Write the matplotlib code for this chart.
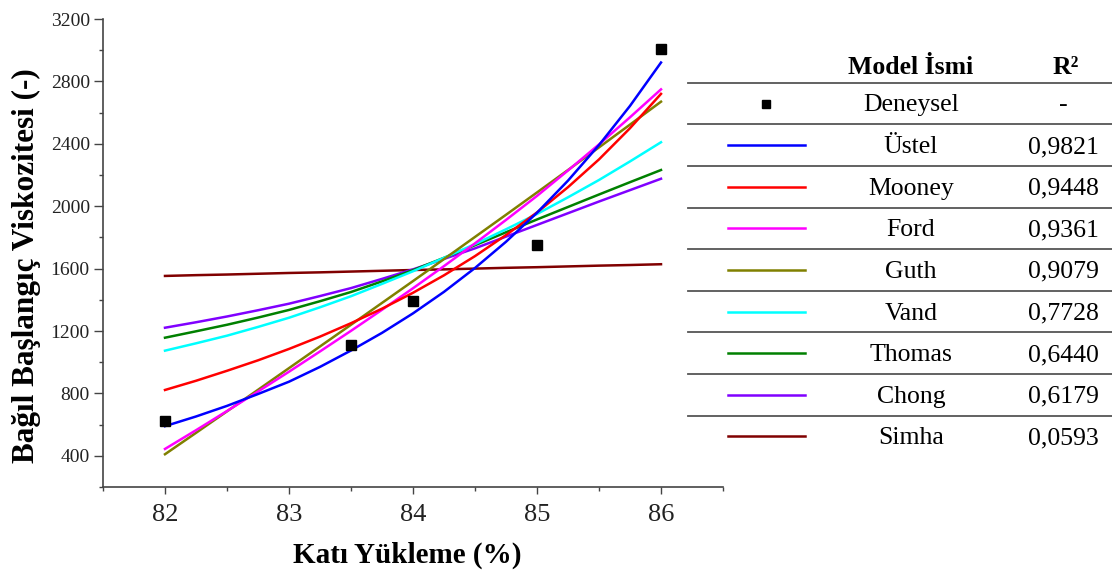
import matplotlib
matplotlib.use("Agg")
import matplotlib.pyplot as plt
from matplotlib.ticker import MultipleLocator
from matplotlib.lines import Line2D

# ---- data ----
x_exp = [82, 83.5, 84, 85, 86]
y_exp = [620, 1110, 1390, 1750, 3005]

x_fit = [82, 82.25, 82.5, 82.75, 83, 83.25, 83.5, 83.75, 84,
         84.25, 84.5, 84.75, 85, 85.25, 85.5, 85.75, 86]
ustel  = [590, 652, 720, 796, 875, 970, 1075, 1188, 1313,
          1451, 1604, 1772, 1958, 2164, 2392, 2643, 2921]
mooney = [822, 881, 945, 1012, 1085, 1164, 1250, 1343, 1445,
          1557, 1680, 1815, 1960, 2122, 2300, 2500, 2720]
ford   = [444, 564, 687, 812, 939, 1069, 1201, 1336, 1474,
          1616, 1762, 1912, 2066, 2229, 2396, 2570, 2749]
guth   = [410, 547, 685, 823, 962, 1101, 1240, 1380, 1520,
          1661, 1803, 1945, 2088, 2232, 2377, 2523, 2670]
vand   = [1074, 1121, 1170, 1226, 1285, 1352, 1423, 1502, 1583,
          1669, 1757, 1852, 1950, 2057, 2168, 2287, 2410]
thomas = [1157, 1198, 1240, 1286, 1335, 1391, 1450, 1518, 1590,
          1669, 1750, 1833, 1915, 1995, 2075, 2154, 2232]
chong  = [1221, 1256, 1293, 1333, 1375, 1424, 1475, 1534, 1595,
          1662, 1730, 1805, 1880, 1955, 2030, 2103, 2176]
simha  = [1553, 1558, 1562, 1567, 1572, 1576, 1581, 1586, 1591,
          1595, 1600, 1605, 1609, 1614, 1619, 1623, 1628]

model_names = ["Üstel", "Mooney", "Ford", "Guth", "Vand", "Thomas", "Chong", "Simha"]
model_r2 = ["0,9821", "0,9448", "0,9361", "0,9079", "0,7728", "0,6440", "0,6179", "0,0593"]
model_colors = ["#0000FF", "#FF0000", "#FF00FF", "#808000", "#00FFFF", "#008000", "#8000FF", "#800000"]
model_series = [ustel, mooney, ford, guth, vand, thomas, chong, simha]

plt.rcParams['font.family'] = ['Liberation Serif', 'DejaVu Serif']

W, H = 1112, 579
fig = plt.figure(figsize=(W / 100, H / 100), dpi=100)
fig.patch.set_facecolor('white')

ax = fig.add_axes([103 / W, (H - 487) / H, 620 / W, 468 / H])
for s, c in zip(model_series[::-1], model_colors[::-1]):
    ax.plot(x_fit, s, color=c, lw=1.8, zorder=2)
ax.plot(x_exp, y_exp, ls='none', marker='s', color='black', ms=6.5, zorder=3)

ax.set_xlim(81.5, 86.5)
ax.set_ylim(200, 3200)
ax.xaxis.set_major_locator(MultipleLocator(1))
ax.xaxis.set_minor_locator(MultipleLocator(0.5))
ax.yaxis.set_minor_locator(MultipleLocator(200))
ax.set_yticks([400, 800, 1200, 1600, 2000, 2400, 2800, 3200])

for sp in ['top', 'right']:
    ax.spines[sp].set_visible(False)
for sp in ['left', 'bottom']:
    ax.spines[sp].set_color('#444444')
    ax.spines[sp].set_linewidth(1.2)

ax.tick_params(axis='y', which='major', direction='out', length=6.5, width=1.0,
               color='#444444', labelsize=14, labelcolor='#222222', pad=3)
ax.tick_params(axis='y', which='minor', direction='out', length=3, width=1.0, color='#444444')
ax.tick_params(axis='x', which='major', direction='out', length=5, width=1.0,
               color='#444444', labelsize=19, labelcolor='#222222', pad=7)
ax.tick_params(axis='x', which='minor', direction='out', length=3, width=1.0, color='#444444')

ax.set_xlabel("Katı Yükleme (%)", fontsize=21, fontweight='bold')
ax.set_ylabel("Bağıl Başlangıç Viskozitesi (-)", fontsize=22.5, fontweight='bold')
ax.xaxis.label.set_va('center')
ax.yaxis.label.set_va('center')
ax.xaxis.set_label_coords(0.491, -0.145)
ax.yaxis.set_label_coords(-0.123, 0.472)

# ---- table legend (pixel coordinate overlay) ----
tab = fig.add_axes([0, 0, 1, 1])
tab.set_xlim(0, W)
tab.set_ylim(H, 0)
tab.axis('off')
tab.patch.set_alpha(0)

name_x, r2_x = 911, 1063
line_x0, line_x1 = 688, W
row0, pitch = 103.5, 41.6

tab.text(name_x, 67, "Model İsmi", ha='center', va='center', fontsize=18.5, fontweight='bold')
tab.text(r2_x + 3, 67, "R²", ha='center', va='center', fontsize=18.5, fontweight='bold')

rows_names = ["Deneysel"] + model_names
rows_r2 = ["-"] + model_r2
for i, (nm, r2) in enumerate(zip(rows_names, rows_r2)):
    yc = row0 + i * pitch
    tab.add_line(Line2D([line_x0, line_x1], [yc - pitch / 2, yc - pitch / 2],
                        color='#555555', lw=1.3))
    tab.text(name_x, yc + 2, nm, ha='center', va='center', fontsize=18.5)
    tab.text(r2_x, yc + 2, r2, ha='center', va='center', fontsize=18.5)
    if i == 0:
        tab.plot([766], [yc], ls='none', marker='s', color='black', ms=6)
    else:
        tab.add_line(Line2D([728, 805], [yc, yc], color=model_colors[i - 1], lw=1.8))

fig.savefig("out.png", dpi=100, facecolor='white')
